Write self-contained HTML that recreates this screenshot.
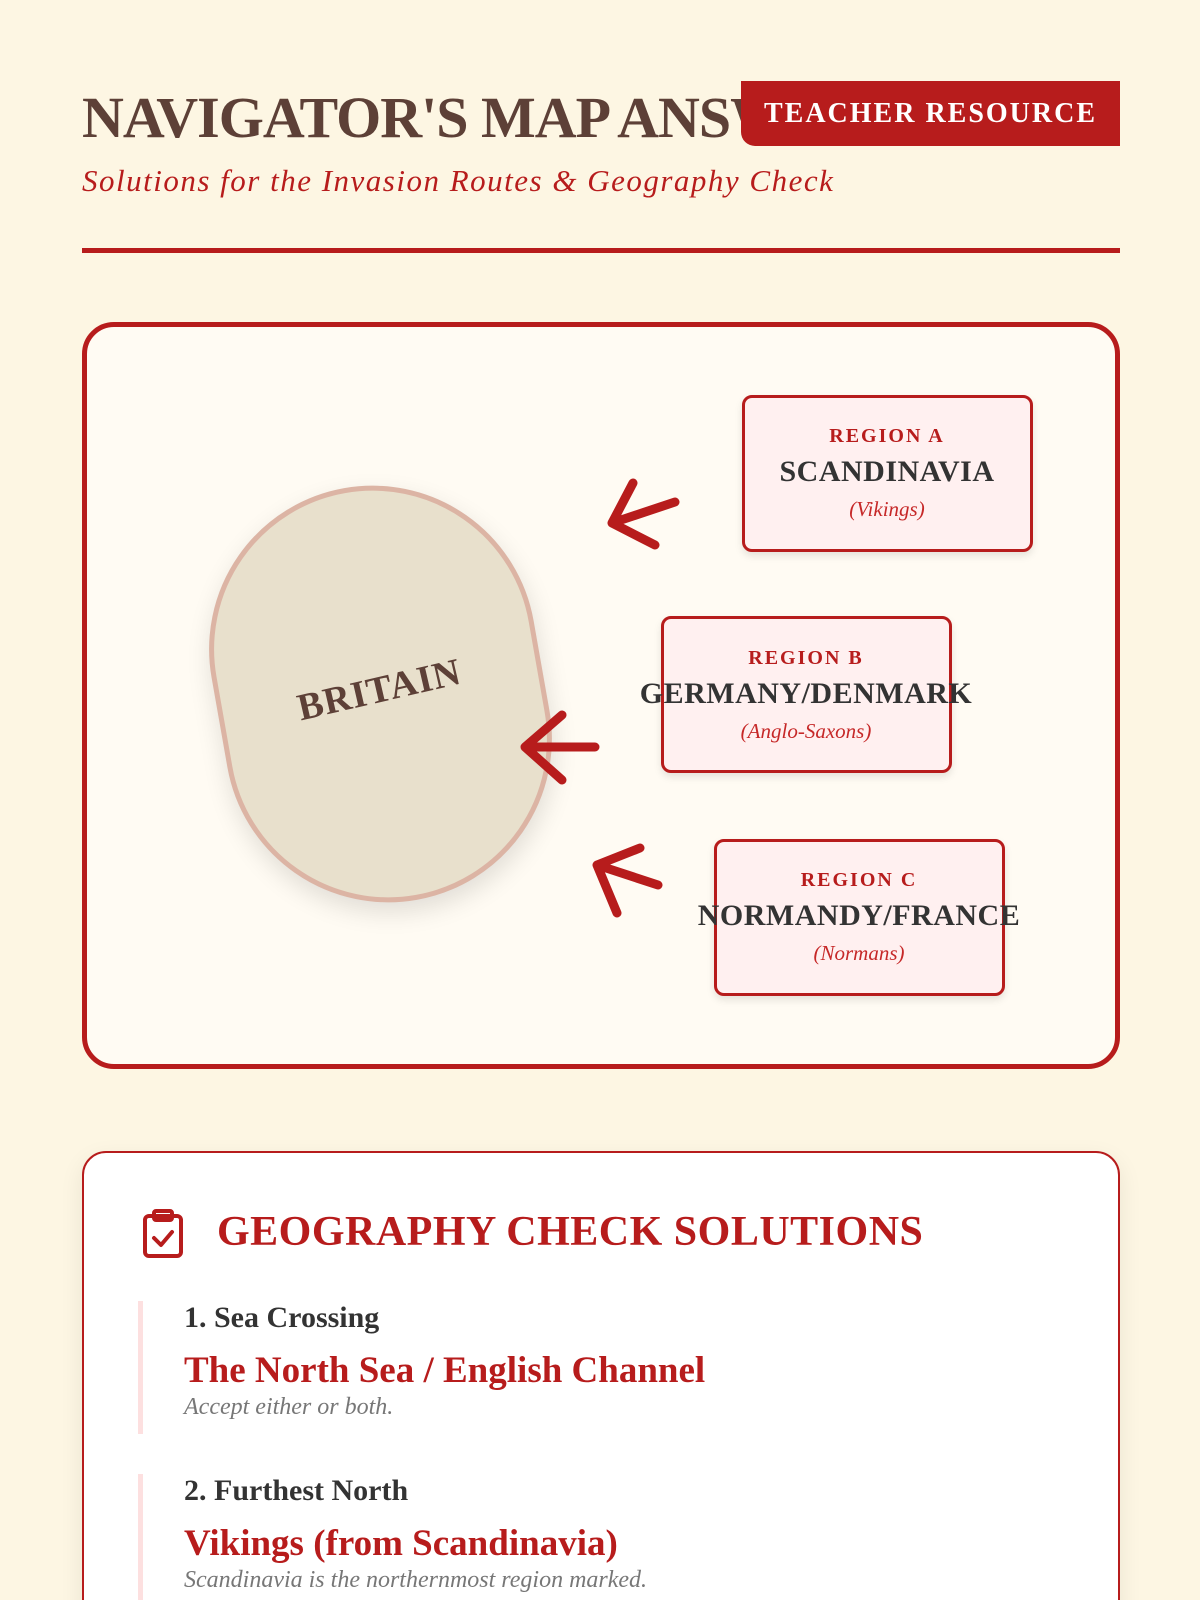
<!DOCTYPE html>
<html><head><meta charset="utf-8"><style>
*{margin:0;padding:0;box-sizing:border-box}
html{width:1200px;height:1600px;overflow:hidden}
body{width:1200px;height:1600px;background:#fdf6e3;font-family:"Liberation Serif",serif;position:relative;overflow:hidden}
.abs{position:absolute}
.title{left:82px;top:84px;font-size:58px;font-weight:bold;color:#5d4037;letter-spacing:-1px;white-space:nowrap}
.badge{left:741px;top:81px;width:379px;height:65px;background:#b71c1c;color:#fff;font-size:28px;font-weight:bold;letter-spacing:2px;text-align:center;line-height:65px;border-radius:0 0 0 14px}
.sub{left:82px;top:163px;font-size:31px;font-style:italic;color:#b71c1c;letter-spacing:1.5px;white-space:nowrap}
.rule{left:82px;top:248px;width:1038px;height:5px;background:#b71c1c}
.map{left:82px;top:322px;width:1038px;height:747px;border:5px solid #b71c1c;border-radius:32px;background:#fffbf3}
.blob{left:217px;top:485px;width:327px;height:418px;background:#e8e0cc;border:5px solid #dcb4a4;border-radius:164px;transform:rotate(-10deg);box-shadow:0 10px 25px rgba(0,0,0,.12)}
.brit{left:296px;top:668px;font-size:38px;font-weight:bold;color:#5d4037;transform:rotate(-13deg);letter-spacing:1px}
.reg{width:291px;height:157px;background:#fff0f0;border:3px solid #b71c1c;border-radius:10px;box-shadow:0 4px 8px rgba(0,0,0,.1)}
.rl,.rn,.rp{position:absolute;transform:translateX(-50%);text-align:center;white-space:nowrap}
.rl{font-weight:bold;color:#b71c1c;font-size:20px;letter-spacing:2px}
.rn{font-weight:bold;color:#333;font-size:30px;letter-spacing:.5px}
.rp{font-style:italic;color:#c62828;font-size:21px}
.card{left:82px;top:1151px;width:1038px;height:480px;background:#fff;border:2px solid #b71c1c;border-radius:24px;box-shadow:0 8px 24px rgba(0,0,0,.08)}
.h2{left:217px;top:1208px;font-size:42px;font-weight:bold;color:#b71c1c;letter-spacing:.5px}
.item{left:138px;width:900px;border-left:5px solid #fde0e0;padding-left:41px}
.q{font-size:30px;font-weight:bold;color:#333}
.a{font-size:37px;font-weight:bold;color:#b71c1c;margin-top:14px}
.n{font-size:24px;font-style:italic;color:#777;margin-top:2px}
</style></head><body>
<div class="abs title">NAVIGATOR'S MAP ANSWERS</div>
<div class="abs badge">TEACHER RESOURCE</div>
<div class="abs sub">Solutions for the Invasion Routes &amp; Geography Check</div>
<div class="abs rule"></div>
<div class="abs map"></div>
<div class="abs blob"></div>
<div class="abs brit">BRITAIN</div>
<svg class="abs" style="left:0;top:0" width="1200" height="1600" fill="none" stroke="#b71c1c" stroke-width="9" stroke-linecap="round" stroke-linejoin="round">
<path d="M675 502 L612 523 M633 483 L612 523 L655 545"/>
<path d="M595 747 L525 747 M562 715 L525 747 L562 780"/>
<path d="M658 885 L597 865 M640 848 L597 865 L617 913"/>
</svg>
<div class="abs reg" style="left:742px;top:395px"></div>
<div class="rl" style="left:887px;top:425px">REGION A</div>
<div class="rn" style="left:887px;top:455px">SCANDINAVIA</div>
<div class="rp" style="left:887px;top:497px">(Vikings)</div>
<div class="abs reg" style="left:661px;top:616px"></div>
<div class="rl" style="left:806px;top:647px">REGION B</div>
<div class="rn" style="left:806px;top:677px">GERMANY/DENMARK</div>
<div class="rp" style="left:806px;top:719px">(Anglo-Saxons)</div>
<div class="abs reg" style="left:714px;top:839px"></div>
<div class="rl" style="left:859px;top:869px">REGION C</div>
<div class="rn" style="left:859px;top:899px">NORMANDY/FRANCE</div>
<div class="rp" style="left:859px;top:941px">(Normans)</div>
<div class="abs card"></div>
<svg class="abs" style="left:141px;top:1208px" width="46" height="52" fill="none" stroke="#b71c1c" stroke-width="4" stroke-linejoin="round" stroke-linecap="round">
<rect x="4" y="8" width="36" height="40" rx="4"/><rect x="13" y="3" width="18" height="9" rx="2"/><path d="M13 30 L20 37 L31 24"/>
</svg>
<div class="abs h2">GEOGRAPHY CHECK SOLUTIONS</div>
<div class="abs item" style="top:1301px;height:133px">
<div class="q">1. Sea Crossing</div>
<div class="a">The North Sea / English Channel</div>
<div class="n">Accept either or both.</div>
</div>
<div class="abs item" style="top:1474px;height:126px">
<div class="q">2. Furthest North</div>
<div class="a">Vikings (from Scandinavia)</div>
<div class="n">Scandinavia is the northernmost region marked.</div>
</div>
</body></html>
